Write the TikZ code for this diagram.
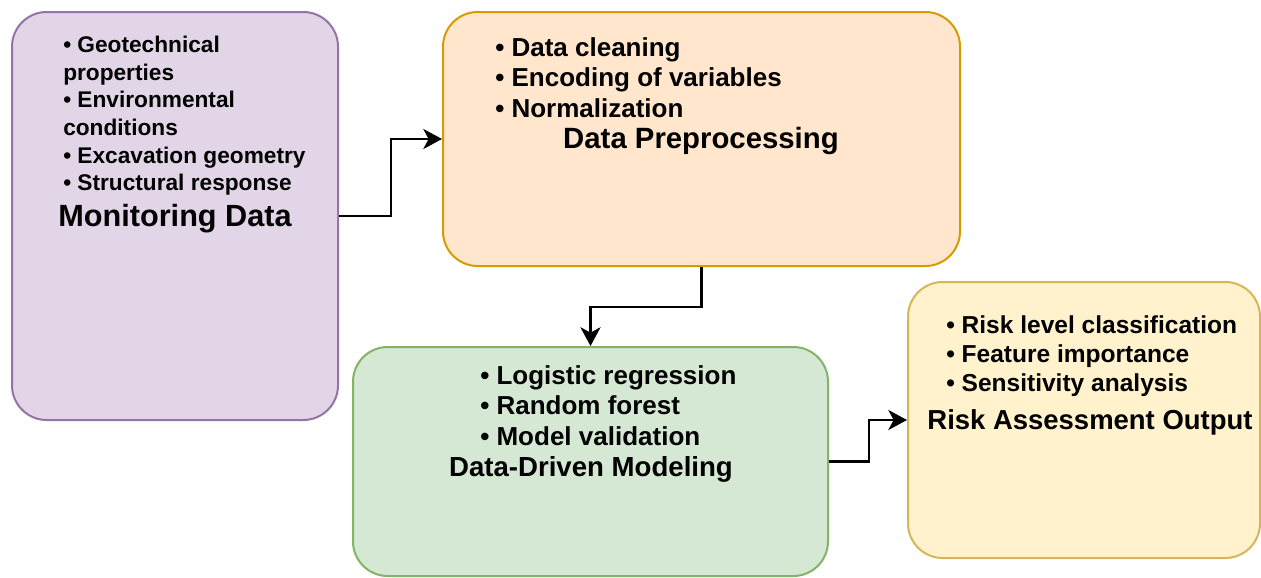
\documentclass[tikz,border=0pt]{standalone}
\usepackage{fontspec}
\setmainfont{Liberation Sans}
\usetikzlibrary{arrows.meta}
\definecolor{monfill}{HTML}{E1D5E7}
\definecolor{monline}{HTML}{9673A6}
\definecolor{prepfill}{HTML}{FFE6CC}
\definecolor{prepline}{HTML}{D79B00}
\definecolor{modfill}{HTML}{D5E8D4}
\definecolor{modline}{HTML}{82B366}
\definecolor{riskfill}{HTML}{FFF2CC}
\definecolor{riskline}{HTML}{D6B656}
\begin{document}
\begin{tikzpicture}[x=0.75pt, y=-0.75pt,
		box/.style={rounded corners=26pt, line width=1.5pt, inner sep=0pt},
		items/.style={anchor=north west, align=left, inner sep=0pt, font=\bfseries},
		title/.style={anchor=base, inner sep=0pt, font=\bfseries},
		flow/.style={line width=2.1pt, -{Stealth[length=14pt, width=15pt, inset=4pt]}}]
		\useasboundingbox (0, 0) rectangle (1261, 578);
		% boxes
		\node [box, fill=monfill, draw=monline, minimum width=244.5pt, minimum height=306pt] at (175, 216) (mon) {};
		\node [box, fill=prepfill, draw=prepline, minimum width=387.75pt, minimum height=190.5pt] at (701.5, 139) (prep) {};
		\node [box, fill=modfill, draw=modline, minimum width=356.25pt, minimum height=171.75pt] at (590.5, 461.5) (model) {};
		\node [box, fill=riskfill, draw=riskline, minimum width=264pt, minimum height=207pt] at (1084, 420) (risk) {};
		% texts
		\node [items, font=\bfseries\fontsize{17}{20.7}\selectfont] at (63, 36) (monitems) {• Geotechnical\\properties\\• Environmental\\conditions\\• Excavation geometry\\• Structural response};
		\node [title, font=\bfseries\fontsize{23}{27}\selectfont] at (175, 226) (montitle) {Monitoring Data};
		\node [items, font=\bfseries\fontsize{19.5}{23}\selectfont] at (495, 37) (prepitems) {• Data cleaning\\• Encoding of variables\\• Normalization};
		\node [title, font=\bfseries\fontsize{22}{26}\selectfont] at (701, 148.5) (preptitle) {Data Preprocessing};
		\node [items, font=\bfseries\fontsize{19.5}{23}\selectfont] at (480, 365) (moditems) {• Logistic regression\\• Random forest\\• Model validation};
		\node [title, font=\bfseries\fontsize{20.7}{25}\selectfont] at (591, 476) (modtitle) {Data-Driven Modeling};
		\node [items, font=\bfseries\fontsize{18.4}{22}\selectfont] at (946, 315) (riskitems) {• Risk level classification\\• Feature importance\\• Sensitivity analysis};
		\node [title, font=\bfseries\fontsize{20.6}{25}\selectfont] at (1090, 429) (risktitle) {Risk Assessment Output};
		% connectors
		\draw [flow] (mon.east) -- ++(52, 0) |- (prep.west);
		\draw [flow] (prep.south) -- ++(0, 40) -| (model.north);
		\draw [flow] (model.east) -- ++(40, 0) |- (risk.west);
	\end{tikzpicture}
\end{document}
